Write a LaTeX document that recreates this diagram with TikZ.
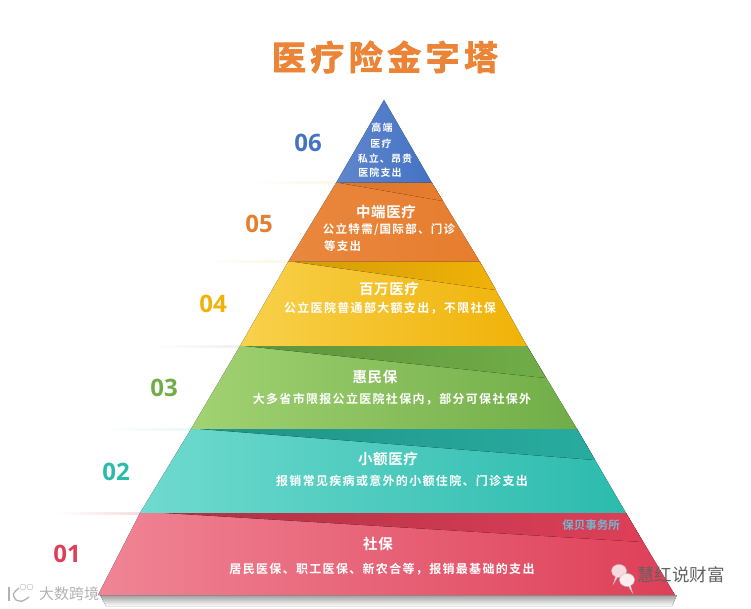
\documentclass[tikz,border=0pt]{standalone}
\usepackage{fontspec}
\setmainfont{Noto Sans CJK SC}[BoldFont={* Bold}]
\newfontfamily\numfont{Open Sans}[BoldFont={* Bold}]
\newfontfamily\bandfont{Noto Sans CJK SC}[UprightFont={* Bold},LetterSpace=11]
\newfontfamily\headfont{Noto Sans CJK SC}[UprightFont={* Bold},LetterSpace=4]
\newfontfamily\titlefont{Noto Sans CJK SC}[UprightFont={* Bold},FakeBold=2.5,LetterSpace=13]
\usetikzlibrary{shapes.callouts}

\definecolor{coltitle}{HTML}{EC8438}
\definecolor{colblue}{HTML}{4472C4}
\definecolor{colorange}{HTML}{E77D2E}
\definecolor{colyellow}{HTML}{F0B208}
\definecolor{colgreen}{HTML}{70AD47}
\definecolor{colteal}{HTML}{2BBBAD}
\definecolor{colred}{HTML}{DE3F58}
\definecolor{lightyellow}{HTML}{F8D14C}
\definecolor{lightgreen}{HTML}{A2D273}
\definecolor{lightteal}{HTML}{70DACF}
\definecolor{lightred}{HTML}{F08595}

\tikzset{
  numlabel/.style={font=\numfont\bfseries\fontsize{24}{24}\selectfont},
  headtext/.style={text=white,font=\headfont\fontsize{14.5}{16}\selectfont,inner sep=0pt},
  bodytext/.style={text=white,font=\bandfont\fontsize{12}{13}\selectfont,inner sep=0pt},
  uppertext/.style={text=white,font=\bandfont\fontsize{11.5}{13}\selectfont,inner sep=0pt},
  smalltext/.style={text=white,font=\bandfont\fontsize{10}{12}\selectfont,inner sep=0pt},
  wechat/.style={draw=black!25,ellipse callout,minimum width=15pt,minimum height=13pt,inner sep=0pt},
}

\begin{document}
\begin{tikzpicture}[x=1pt,y=-1pt]
\useasboundingbox (0,0) rectangle (751,609);
% base shadow
\fill[top color=black!38,bottom color=white] (100,595) -- (677,595) -- (672,606) -- (106,606) -- cycle;
% lines to the left
\fill[left color=white,right color=colyellow!10] (247,182) rectangle (336,184);
\fill[left color=white,right color=colyellow!12] (200,261) rectangle (288,263);
\fill[left color=white,right color=black!6] (150,345) rectangle (240,347);
\fill[left color=white,right color=colteal!10] (103,428) rectangle (191,430);
\fill[left color=white,right color=colred!18] (55,512) rectangle (140,514);
% bands
\fill[left color=colblue!85!white,right color=colblue] (384,100) -- (336,183) -- (432,183) -- cycle;
\fill[left color=colorange!92!white,right color=colorange] (336,183) -- (288,262) -- (480,262) -- (432,183) -- cycle;
\fill[left color=lightyellow,right color=colyellow] (288,262) -- (240,346) -- (527,346) -- (480,262) -- cycle;
\fill[left color=lightgreen,right color=colgreen] (240,346) -- (191,429) -- (577,429) -- (527,346) -- cycle;
\fill[left color=lightteal,right color=colteal] (191,429) -- (140,513) -- (626,513) -- (577,429) -- cycle;
\fill[left color=lightred,right color=colred] (140,513) -- (98,595) -- (675,595) -- (626,513) -- cycle;
% darker folds
\fill[left color=colorange!94!black,right color=colorange] (340,183) -- (432,183) -- (443,201) -- cycle;
\fill[left color=colyellow!88!black,right color=colyellow] (295,262) -- (480,262) -- (496,290) -- cycle;
\fill[left color=colgreen!85!black,right color=colgreen] (245,346) -- (527,346) -- (546,378) -- cycle;
\fill[left color=colteal!78!black,right color=colteal!92!black] (200,429) -- (577,429) -- (595,460) -- cycle;
\fill[left color=colred!78!black,right color=colred] (165,513) -- (626,513) -- (643,542) -- cycle;
% level numbers
\node[numlabel,text=colblue] (n6) at (308,143) {06};
\node[numlabel,text=colorange] (n5) at (259,224) {05};
\node[numlabel,text=colyellow] (n4) at (213,304) {04};
\node[numlabel,text=colgreen] (n3) at (164,388) {03};
\node[numlabel,text=colteal] (n2) at (116,472) {02};
\node[numlabel,text=colred] (n1) at (67,554) {01};
% title
\node[text=coltitle,font=\titlefont\fontsize{34}{36}\selectfont] (title) at (385,57) {医疗险金字塔};
% texts in the bands
\node[smalltext] (t6a) at (382,128) {高端};
\node[smalltext] (t6b) at (381,144) {医疗};
\node[smalltext] (t6c) at (385,159) {私立、昂贵};
\node[smalltext] (t6d) at (380,173) {医院支出};
\node[headtext] (t5a) at (386,212) {中端医疗};
\node[uppertext] (t5b) at (389,230) {公立特需/国际部、门诊};
\node[uppertext,anchor=west] (t5c) at (324,246) {等支出};
\node[headtext] (t4a) at (389,289) {百万医疗};
\node[bodytext] (t4b) at (390,308) {公立医院普通部大额支出，不限社保};
\node[headtext] (t3a) at (375,377) {惠民保};
\node[bodytext] (t3b) at (392,399) {大多省市限报公立医院社保内，部分可保社保外};
\node[headtext] (t2a) at (388,459) {小额医疗};
\node[bodytext] (t2b) at (402,481) {报销常见疾病或意外的小额住院、门诊支出};
\node[headtext] (t1a) at (378,544) {社保};
\node[bodytext] (t1b) at (382,569) {居民医保、职工医保、新农合等，报销最基础的支出};
% marks over the picture
\node[text=colblue!50!colteal!70!white,font=\bfseries\fontsize{11.5}{13}\selectfont,inner sep=0pt] (m1) at (591,525) {保贝事务所};
\node[text=black!62,font=\fontsize{17.5}{19}\selectfont,inner sep=0pt] (m2) at (681,575) {慧红说财富};
\node[wechat,fill=white!80!colred,callout relative pointer={(-3pt,-7pt)}] (w1) at (619,571) {};
\node[wechat,fill=white!90!colred,callout relative pointer={(3pt,-7pt)}] (w2) at (627,580) {};
\node[text=black!30,font=\fontsize{15}{16}\selectfont,inner sep=0pt] (m3) at (69,594) {大数跨境};
\draw[black!30,line width=1.3pt] (9,587) -- (9,601);
\draw[black!30,line width=1.3pt] (19,588) .. controls (12,594) .. (16,600) .. controls (22,602) .. (29,597);
\node[draw=black!30,circle,minimum size=6pt,inner sep=0pt] (m4) at (23,587) {};
\node[draw=black!30,circle,minimum size=6pt,inner sep=0pt] (m5) at (30,587) {};
\end{tikzpicture}
\end{document}
